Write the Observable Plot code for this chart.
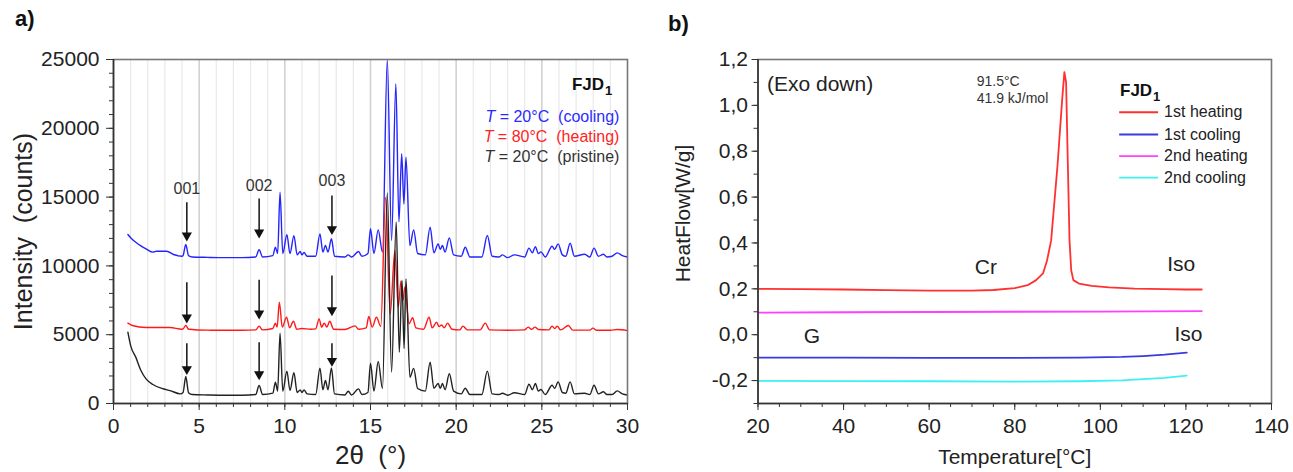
<!DOCTYPE html>
<html>
<head>
<meta charset="utf-8">
<script src="https://cdn.jsdelivr.net/npm/d3@7"></script>
<script src="https://cdn.jsdelivr.net/npm/@observablehq/plot@0.6"></script>
<style>
  html, body { margin: 0; padding: 0; background: #fff; }
  #wrap { position: relative; width: 1293px; height: 472px; overflow: hidden; font-family: "Liberation Sans", Arial, sans-serif; }
  .panel { position: absolute; top: 0; }
  .tag { position: absolute; font-weight: bold; font-size: 22px; color: #111; }
</style>
</head>
<body>
<div id="wrap">
  <div class="tag" style="left:15px;top:6px;">a)</div>
  <div class="tag" style="left:668px;top:11px;">b)</div>
  <div id="pa" class="panel" style="left:0px;"></div>
  <div id="pb" class="panel" style="left:650px;"></div>
</div>
<script>
// ---------------- Panel a: XRD data [2theta, counts] ----------------
const xrdCooling = [
  [0.84,12280],[1.0,12050],[1.3,11720],[1.6,11450],[1.9,11240],[2.3,11000],[2.5,11070],[3.1,11070],[3.5,10830],[4.0,10700],
  [4.06,10750],[4.22,11550],[4.38,10750],[4.6,10650],[5.5,10620],[6.5,10600],[7.5,10600],[8.3,10650],[8.5,11170],[8.7,10650],
  [9.3,10750],[9.45,11360],[9.58,10900],[9.72,15350],[9.88,10900],[10.12,12260],[10.3,10900],[10.53,12200],[10.72,10800],
  [10.9,11050],[11.0,10800],[11.12,10970],[11.3,10700],[11.8,10700],[12.05,12330],[12.22,11000],[12.37,11480],[12.52,11000],
  [12.72,11970],[12.9,10700],[13.5,10650],[13.7,10800],[13.9,10650],[14.3,11050],[14.5,10700],[14.85,10900],[15.0,12700],
  [15.2,10900],[15.45,12620],[15.7,11000],[15.98,25000],[16.23,11850],[16.48,23230],[16.66,13200],[16.82,18150],[16.95,14500],
  [17.07,17900],[17.3,11480],[17.52,12620],[17.75,10900],[18.2,10800],[18.48,12820],[18.7,10950],[18.95,11600],[19.07,11200],
  [19.2,11480],[19.35,11000],[19.6,12040],[19.85,10800],[20.3,10700],[20.53,11360],[20.8,10650],[21.5,10650],[21.82,12210],
  [22.1,10700],[22.5,10650],[22.7,10800],[23.0,10600],[23.4,10800],[24.0,10650],[24.25,11290],[24.45,10950],[24.62,11400],
  [24.8,10900],[24.95,11020],[25.2,10650],[25.6,11430],[25.75,11200],[25.95,11600],[26.2,10800],[26.4,10700],[26.65,11650],
  [26.9,10700],[27.5,10850],[27.8,10650],[28.05,11290],[28.3,10700],[28.6,10850],[28.8,10650],[29.1,10700],[29.4,10950],
  [29.7,10750],[30.0,10650]
];
const xrdHeating = [
  [0.84,5840],[1.1,5670],[1.9,5520],[3.3,5520],[4.0,5400],[4.06,5420],[4.22,5670],[4.38,5400],[5.5,5330],[6.5,5320],
  [7.5,5320],[8.3,5350],[8.5,5620],[8.7,5350],[9.3,5450],[9.45,5840],[9.55,5550],[9.68,7360],[9.85,5550],[10.1,6280],
  [10.28,5500],[10.5,5980],[10.7,5400],[11.0,5450],[11.5,5400],[11.8,5420],[12.0,6150],[12.15,5550],[12.3,5840],[12.45,5550],
  [12.62,5980],[12.85,5400],[13.5,5380],[14.1,5640],[14.3,5400],[14.75,5500],[14.9,6320],[15.1,5550],[15.35,6270],[15.6,5600],
  [15.88,15000],[16.15,6500],[16.42,11100],[16.62,7000],[16.78,8900],[16.9,7500],[17.0,8450],[17.25,5800],[17.46,6230],
  [17.65,5500],[18.1,5400],[18.42,6270],[18.6,5500],[18.86,5900],[19.0,5600],[19.15,5700],[19.3,5500],[19.5,5840],[19.75,5400],
  [20.2,5350],[20.4,5620],[20.65,5350],[21.4,5350],[21.7,5840],[21.95,5350],[23.0,5320],[24.0,5350],[24.2,5550],[24.4,5400],
  [24.6,5550],[24.8,5380],[25.4,5350],[25.6,5620],[25.75,5450],[25.9,5620],[26.1,5350],[26.55,5670],[26.8,5330],[27.8,5330],
  [27.98,5480],[28.2,5320],[29.0,5320],[29.4,5380],[30.0,5300]
];
const xrdPristine = [
  [0.84,5180],[1.0,4210],[1.3,3370],[1.6,2400],[1.9,1790],[2.3,1380],[2.9,1070],[3.3,940],[3.9,700],[4.06,800],[4.22,1960],
  [4.38,780],[4.6,650],[5.5,620],[6.5,600],[7.5,600],[8.3,650],[8.5,1310],[8.7,650],[9.3,750],[9.45,1550],[9.58,900],
  [9.72,5110],[9.88,900],[10.12,2350],[10.3,950],[10.53,2230],[10.72,800],[10.9,990],[11.0,800],[11.12,990],[11.3,700],
  [11.8,650],[12.05,2570],[12.22,1000],[12.37,1670],[12.52,1000],[12.72,2590],[12.9,700],[13.5,620],[13.7,890],[13.9,620],
  [14.3,1060],[14.5,650],[14.85,800],[15.0,2930],[15.2,900],[15.45,3050],[15.7,1090],[15.98,15300],[16.23,2280],[16.5,13200],
  [16.68,3730],[16.84,8940],[16.96,4000],[17.07,9060],[17.3,1900],[17.52,2550],[17.75,1090],[18.2,900],[18.48,3000],[18.7,1100],
  [18.95,1450],[19.07,1100],[19.2,1450],[19.35,1000],[19.6,2160],[19.85,900],[20.3,700],[20.53,1110],[20.8,650],[21.5,650],
  [21.82,2350],[22.1,700],[22.5,650],[22.7,750],[23.0,600],[23.4,780],[24.0,650],[24.25,1400],[24.45,1000],[24.62,1450],
  [24.8,900],[24.95,1020],[25.2,650],[25.6,1330],[25.75,1100],[25.95,1570],[26.2,800],[26.4,750],[26.65,1570],[26.9,700],
  [27.5,750],[27.8,650],[28.05,1330],[28.3,700],[28.6,850],[28.8,650],[29.1,650],[29.4,920],[29.7,700],[30.0,620]
];
// Miller index arrows: position, top of shaft, tip, per trace
const hklLabels = ["001", "002", "003"];
const hklX = [4.28, 8.5, 12.75];
const hklLabelY = [15620, 15840, 16200];
const arrowCoolTop = [14630, 14900, 15120];
const arrowCoolTip = [11990, 12210, 12450];
const arrowHeatTop = [8815, 8990, 9300];
const arrowHeatTip = [6030, 6320, 6560];
const arrowPrisTop = [4380, 4450, 4380];
const arrowPrisTip = [2275, 1910, 2880];
// legend texts
const legendA = ["T = 20°C  (cooling)", "T = 80°C  (heating)", "T = 20°C  (pristine)"];
const legendAColors = ["#2b2bff", "#ff2424", "#333333"];
const legendAY = [20807, 19353, 17900];
// axis ticks
const xTicksA = [0, 5, 10, 15, 20, 25, 30];
const xMinorA = d3.range(0, 31, 1);
const yTicksA = [0, 5000, 10000, 15000, 20000, 25000];
const yMinorA = d3.range(0, 25001, 1000);
const gridMinorA = d3.range(1, 30, 1).filter(v => v % 5 !== 0);
const gridMajorA = [5, 10, 15, 20, 25];

// ---------------- Panel b: DSC data [T (°C), W/g] ----------------
const heating1 = [
  [20,0.200],[30,0.199],[40,0.197],[50,0.194],[60,0.192],[70,0.192],[75,0.195],[80,0.203],[83,0.216],[85,0.238],[86.6,0.267],
  [87.5,0.32],[88.5,0.41],[90,0.74],[91.1,1.03],[91.6,1.145],[92.0,1.10],[92.4,0.75],[92.8,0.41],[93.2,0.28],[93.7,0.238],
  [95,0.223],[98,0.213],[102,0.206],[108,0.201],[115,0.199],[120,0.197],[123.7,0.197]
];
const cooling1 = [
  [20,-0.100],[40,-0.100],[60,-0.101],[80,-0.101],[95,-0.100],[105,-0.097],[110,-0.093],[115,-0.087],[120.2,-0.078]
];
const heating2 = [
  [20,0.096],[40,0.098],[60,0.099],[80,0.100],[100,0.101],[123.7,0.103]
];
const cooling2 = [
  [20,-0.201],[40,-0.202],[60,-0.203],[80,-0.205],[95,-0.203],[105,-0.199],[110,-0.194],[115,-0.188],[120.2,-0.178]
];
const dscNames = ["1st heating", "1st cooling", "2nd heating", "2nd cooling"];
const dscColors = ["#ff3030", "#3a3ae0", "#ff40ff", "#40f0f0"];
const legendBY = [0.970, 0.873, 0.779, 0.685];
const xTicksB = [20, 40, 60, 80, 100, 120, 140];
const xMinorB = d3.range(20, 141, 5);
const yTicksB = [-0.2, 0, 0.2, 0.4, 0.6, 0.8, 1.0, 1.2];
const yTickLabelsB = ["-0,2", "0,0", "0,2", "0,4", "0,6", "0,8", "1,0", "1,2"];
const yMinorB = [-0.3, -0.2, -0.1, 0, 0.1, 0.2, 0.3, 0.4, 0.5, 0.6, 0.7, 0.8, 0.9, 1.0, 1.1, 1.2];
const phaseLabels = ["Cr", "Iso", "G", "Iso"];
const phaseX = [73.25, 118.9, 32.6, 120.6];
const phaseY = [0.296, 0.308, -0.009, 0.002];

const FONT = "'Liberation Sans', Arial, sans-serif";
const px = d => d[0], py = d => d[1];

// ---------------- Plot a ----------------
const arrowRows = [];
hklX.forEach((x, i) => {
  arrowRows.push({x, y1: arrowCoolTop[i], y2: arrowCoolTip[i]});
  arrowRows.push({x, y1: arrowHeatTop[i], y2: arrowHeatTip[i]});
  arrowRows.push({x, y1: arrowPrisTop[i], y2: arrowPrisTip[i]});
});
const legendRowsA = legendA.map((t, i) => ({t, c: legendAColors[i], y: legendAY[i]}));

const plotA = Plot.plot({
  width: 650, height: 472,
  marginLeft: 113, marginRight: 23, marginTop: 59, marginBottom: 69,
  x: {domain: [0, 30]},
  y: {domain: [0, 25000]},
  style: {fontFamily: FONT, fontSize: "21px", color: "#222", background: "transparent", overflow: "visible"},
  marks: [
    Plot.ruleX(gridMinorA, {stroke: "#e9e9e9", strokeWidth: 1.2}),
    Plot.ruleX(gridMajorA, {stroke: "#d2d2d2", strokeWidth: 1.6}),
    Plot.line(xrdCooling, {x: px, y: py, stroke: "#2424ff", strokeWidth: 1.4, curve: "monotone-x"}),
    Plot.line(xrdHeating, {x: px, y: py, stroke: "#ff1a1a", strokeWidth: 1.4, curve: "monotone-x"}),
    Plot.line(xrdPristine, {x: px, y: py, stroke: "#222", strokeWidth: 1.4, curve: "monotone-x"}),
    Plot.link(arrowRows, {x1: "x", x2: "x", y1: "y1", y2: "y2", stroke: "#111", strokeWidth: 1.5}),
    Plot.dot(arrowRows, {x: "x", y: "y2", symbol: "triangle", rotate: 180, r: 3.8, fill: "#111", stroke: "none", dy: -3}),
    Plot.text(hklLabels, {x: (d, i) => hklX[i], y: (d, i) => hklLabelY[i], text: d => d, fontSize: 16, fill: "#333"}),
    Plot.text(["FJD"], {x: 28.63, y: 23150, text: d => d, fontSize: 17, fontWeight: "bold", textAnchor: "end", fill: "#111"}),
    Plot.text(["1"], {x: 28.68, y: 23150, text: d => d, fontSize: 13, fontWeight: "bold", textAnchor: "start", dy: 6, fill: "#111"}),
    Plot.text(legendRowsA, {x: 29.53, y: "y", text: "t", fill: "c", fontSize: 16, textAnchor: "end"}),
    Plot.text(["2θ  (°)"], {frameAnchor: "bottom", dy: 52, lineAnchor: "middle", text: d => d, fontSize: 26, fill: "#222"}),
    Plot.text(["Intensity  (counts)"], {frameAnchor: "left", dx: -90, rotate: -90, textAnchor: "middle", lineAnchor: "middle", text: d => d, fontSize: 25, fill: "#222"}),
    Plot.frame({stroke: "#777", strokeWidth: 1.6}),
    Plot.ruleX([0], {stroke: "#333", strokeWidth: 1.6}),
    Plot.ruleY([0], {stroke: "#333", strokeWidth: 1.6}),
    Plot.axisX({ticks: xMinorA, tickSize: 4, tickFormat: () => "", label: null, stroke: "#333"}),
    Plot.axisX({ticks: xTicksA, tickSize: 7, tickPadding: 8, tickFormat: d => String(d), label: null, stroke: "#333", fontSize: 21, fill: "#222"}),
    Plot.axisY({ticks: yMinorA, tickSize: 4, tickFormat: () => "", label: null, stroke: "#333"}),
    Plot.axisY({ticks: yTicksA, tickSize: 7, tickPadding: 7, tickFormat: d => String(d), label: null, stroke: "#333", fontSize: 21, fill: "#222"})
  ]
});
document.getElementById("pa").appendChild(plotA);

// ---------------- Plot b ----------------
const legendRowsB = dscNames.map((n, i) => ({n, c: dscColors[i], y: legendBY[i]}));
const plotB = Plot.plot({
  width: 643, height: 472,
  marginLeft: 107.5, marginRight: 22, marginTop: 59, marginBottom: 69,
  x: {domain: [20, 140]},
  y: {domain: [-0.3, 1.2]},
  style: {fontFamily: FONT, fontSize: "21px", color: "#222", background: "transparent", overflow: "visible"},
  marks: [
    Plot.line(cooling2, {x: px, y: py, stroke: dscColors[3], strokeWidth: 1.8}),
    Plot.line(cooling1, {x: px, y: py, stroke: dscColors[1], strokeWidth: 1.8}),
    Plot.line(heating2, {x: px, y: py, stroke: dscColors[2], strokeWidth: 1.8}),
    Plot.line(heating1, {x: px, y: py, stroke: dscColors[0], strokeWidth: 1.8}),
    Plot.link(legendRowsB, {x1: 104.4, x2: 113.5, y1: "y", y2: "y", stroke: "c", strokeWidth: 1.8}),
    Plot.text(legendRowsB, {x: 114.9, y: "y", text: "n", fontSize: 16, textAnchor: "start", fill: "#222"}),
    Plot.text(["FJD"], {x: 104.6, y: 1.065, text: d => d, fontSize: 17, fontWeight: "bold", textAnchor: "start", fill: "#111"}),
    Plot.text(["1"], {x: 112.3, y: 1.065, text: d => d, fontSize: 13, fontWeight: "bold", textAnchor: "start", dy: 6, fill: "#111"}),
    Plot.text(["(Exo down)"], {x: 22.1, y: 1.094, text: d => d, fontSize: 21, textAnchor: "start", fill: "#222"}),
    Plot.text(["91.5°C", "41.9 kJ/mol"], {x: 71.1, y: (d, i) => [1.105, 1.029][i], text: d => d, fontSize: 14, textAnchor: "start", fill: "#333"}),
    Plot.text(phaseLabels, {x: (d, i) => phaseX[i], y: (d, i) => phaseY[i], text: d => d, fontSize: 21, fill: "#222"}),
    Plot.text(["Temperature[°C]"], {frameAnchor: "bottom", dy: 54, lineAnchor: "middle", text: d => d, fontSize: 21, fill: "#222"}),
    Plot.text(["HeatFlow[W/g]"], {frameAnchor: "left", dx: -75, dy: -18, rotate: -90, textAnchor: "middle", lineAnchor: "middle", text: d => d, fontSize: 21, fill: "#222"}),
    Plot.frame({stroke: "#777", strokeWidth: 1.6}),
    Plot.ruleX([20], {stroke: "#333", strokeWidth: 1.6}),
    Plot.ruleY([-0.3], {stroke: "#333", strokeWidth: 1.6}),
    Plot.axisX({ticks: xMinorB, tickSize: 4, tickFormat: () => "", label: null, stroke: "#333"}),
    Plot.axisX({ticks: xTicksB, tickSize: 7, tickPadding: 8, tickFormat: d => String(d), label: null, stroke: "#333", fontSize: 21, fill: "#222"}),
    Plot.axisY({ticks: yMinorB, tickSize: 4, tickFormat: () => "", label: null, stroke: "#333"}),
    Plot.axisY({ticks: yTicksB, tickSize: 6, tickPadding: 4, tickFormat: d => yTickLabelsB[yTicksB.findIndex(v => Math.abs(v - d) < 1e-9)], label: null, stroke: "#333", fontSize: 21, fill: "#222"})
  ]
});
document.getElementById("pb").appendChild(plotB);

// italic "T" in the legend of panel a
d3.select(plotA).selectAll("text").each(function() {
  const t = this.textContent;
  if (/^T = /.test(t)) {
    const el = d3.select(this);
    el.text(null);
    el.append("tspan").attr("font-style", "italic").text("T");
    el.append("tspan").text(t.slice(1));
  }
});
</script>
</body>
</html>
